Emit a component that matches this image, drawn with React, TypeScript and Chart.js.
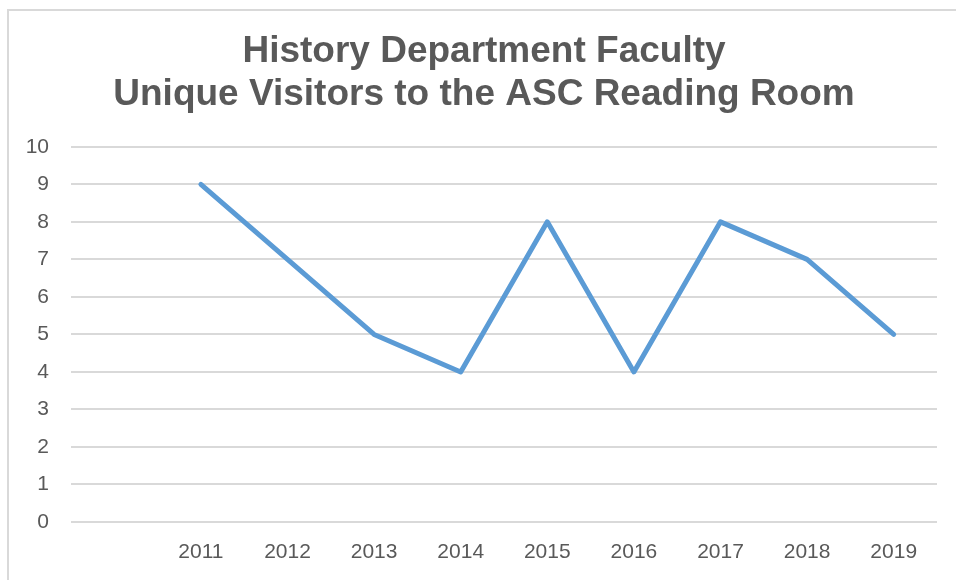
import React, { useEffect, useRef } from "react";
import { Chart, registerables } from "chart.js";

Chart.register(...registerables);

const titleLines = ["History Department Faculty", "Unique Visitors to the ASC Reading Room"];
const categories = ["", "2011", "2012", "2013", "2014", "2015", "2016", "2017", "2018", "2019"];
const visitors = [null, 9, 7, 5, 4, 8, 4, 8, 7, 5];
const yMin = 0;
const yMax = 10;
const yStep = 1;

export default function App() {
  const ref = useRef<HTMLCanvasElement | null>(null);

  useEffect(() => {
    document.body.style.margin = "0";
    const canvas = ref.current;
    if (!canvas) return;
    const chart = new Chart(canvas, {
      type: "line",
      data: {
        labels: categories,
        datasets: [
          {
            label: "Visitors",
            data: visitors,
            yAxisID: "y",
            borderColor: "#5b9bd5",
            backgroundColor: "#5b9bd5",
            borderWidth: 5,
            pointRadius: 0,
            tension: 0,
            borderJoinStyle: "round",
            borderCapStyle: "round",
          },
        ],
      },
      options: {
        responsive: false,
        animation: false,
        layout: { padding: { left: 0, right: 0, top: 0, bottom: 18 } },
        plugins: {
          legend: { display: false },
          tooltip: { enabled: false },
          title: {
            display: true,
            text: titleLines,
            color: "#595959",
            font: { family: "'Liberation Sans', Arial, sans-serif", size: 37, weight: "bold", lineHeight: 1.16 },
            padding: { top: 30, bottom: 31 },
          },
        },
        scales: {
          x: {
            offset: true,
            grid: { display: false, offset: true, drawTicks: false },
            border: { display: false },
            ticks: {
              color: "#595959",
              font: { family: "'Liberation Sans', Arial, sans-serif", size: 21 },
              padding: 18,
              maxRotation: 0,
              autoSkip: false,
            },
            afterFit: (scale: any) => {
              scale.height = 40;
            },
          },
          y: {
            position: "left",
            min: yMin,
            max: yMax,
            grid: { color: "#d9d9d9", lineWidth: 2, drawTicks: false },
            border: { display: false },
            ticks: {
              stepSize: yStep,
              color: "#595959",
              font: { family: "'Liberation Sans', Arial, sans-serif", size: 21 },
              padding: 22,
            },
            afterFit: (scale: any) => {
              scale.width = 71;
            },
          },
          spacer: {
            position: "right",
            min: yMin,
            max: yMax,
            grid: { display: false, drawTicks: false },
            border: { display: false },
            ticks: { display: false },
            afterFit: (scale: any) => {
              scale.width = 31;
            },
          },
        },
      },
    });
    return () => chart.destroy();
  }, []);

  return (
    <div style={{ position: "relative", width: 956, height: 580, overflow: "hidden", background: "#fff" }}>
      <div
        style={{
          position: "absolute",
          left: 7,
          top: 9,
          width: 970,
          height: 600,
          borderTop: "2px solid #d9d9d9",
          borderLeft: "2px solid #d9d9d9",
        }}
      />
      <canvas ref={ref} width={968} height={580} style={{ position: "absolute", left: 0, top: 0 }} />
    </div>
  );
}
